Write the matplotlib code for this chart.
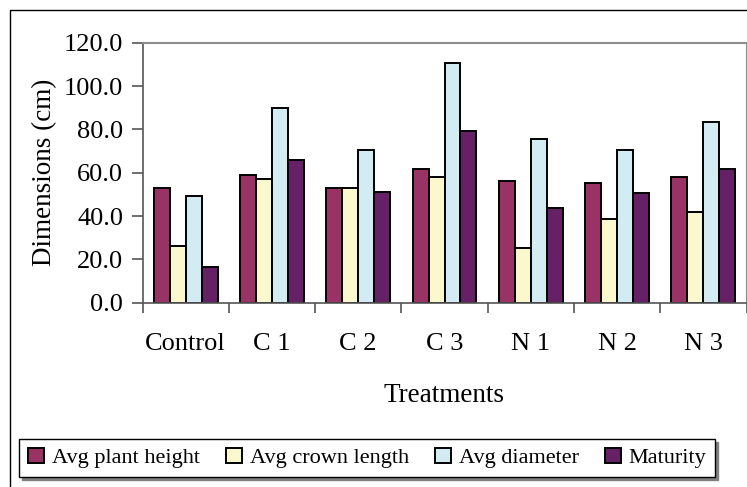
import numpy as np
import matplotlib
matplotlib.use("Agg")
import matplotlib.pyplot as plt
from matplotlib.patches import Rectangle

plt.rcParams['font.family'] = ['Liberation Serif', 'DejaVu Serif']

treatments = ['Control', 'C 1', 'C 2', 'C 3', 'N 1', 'N 2', 'N 3']
plant_height = [53.1, 59.1, 53.1, 61.9, 56.2, 55.2, 57.9]
crown_length = [26.2, 56.9, 53.1, 57.9, 25.1, 38.6, 41.9]
diameter = [49.4, 90.0, 70.5, 110.6, 75.7, 70.6, 83.3]
maturity = [16.5, 65.7, 51.2, 79.4, 43.6, 50.5, 61.9]

series = [plant_height, crown_length, diameter, maturity]
names = ['Avg plant height', 'Avg crown length', 'Avg diameter', 'Maturity']
colors = ['#993366', '#FCF8CE', '#D3EBF3', '#652066']
yticks = [0, 20, 40, 60, 80, 100, 120]

W, H = 747, 487
fig = plt.figure(figsize=(W / 100, H / 100), dpi=100)

# outer chart frame (right/bottom fall outside the image)
fig.patches.append(Rectangle((10 / W, -0.1), 1.2, 1.1 - 9.5 / H,
                             transform=fig.transFigure, fill=False,
                             edgecolor='black', linewidth=1.0))

left, right, top, bottom = 142.5, 746.5, 42.7, 302.7
ax = fig.add_axes([left / W, 1 - bottom / H, (right - left) / W, (bottom - top) / H])

x = np.arange(len(treatments)) + 0.5
bw = 0.185
for i, (vals, name, c) in enumerate(zip(series, names, colors)):
    ax.bar(x + (i - 1.5) * bw, vals, bw, color=c, edgecolor='black',
           linewidth=1.4, label=name)

ax.set_xlim(0, len(treatments))
ax.set_ylim(0, 120)
ax.set_yticks(yticks)
ax.set_yticklabels([f'{v:.1f}' for v in yticks], fontsize=19)
ax.set_xticks(x)
ax.set_xticklabels(treatments, fontsize=19)
ax.set_xticks(np.arange(0, len(treatments) + 1), minor=True)
ax.tick_params(axis='x', which='major', length=0, pad=22)
ax.tick_params(axis='x', which='minor', length=7, color='#555555', width=1.2)
ax.tick_params(axis='y', length=8, color='#555555', width=1.2, pad=6)

for s in ['left', 'bottom']:
    ax.spines[s].set_color('#555555')
    ax.spines[s].set_linewidth(1.2)
for s in ['top', 'right']:
    ax.spines[s].set_color('#8c8c8c')
    ax.spines[s].set_linewidth(1.5)

ax.set_ylabel('Dimensions (cm)', fontsize=19.5)
ax.yaxis.set_label_coords(-0.141, 0.5)
ax.set_xlabel('Treatments', fontsize=19.5)
ax.xaxis.set_label_coords(0.5, -0.31)

fig.legend(loc='center', bbox_to_anchor=(367.4 / W, 1 - 458 / H), ncol=4,
           fontsize=16, frameon=True, fancybox=False, edgecolor='black',
           shadow={'color': '#808080', 'alpha': 1}, handlelength=0.7,
           handleheight=0.7, handletextpad=0.35, columnspacing=1.2,
           borderpad=0.4, framealpha=1)

fig.savefig('out.png', dpi=100)
